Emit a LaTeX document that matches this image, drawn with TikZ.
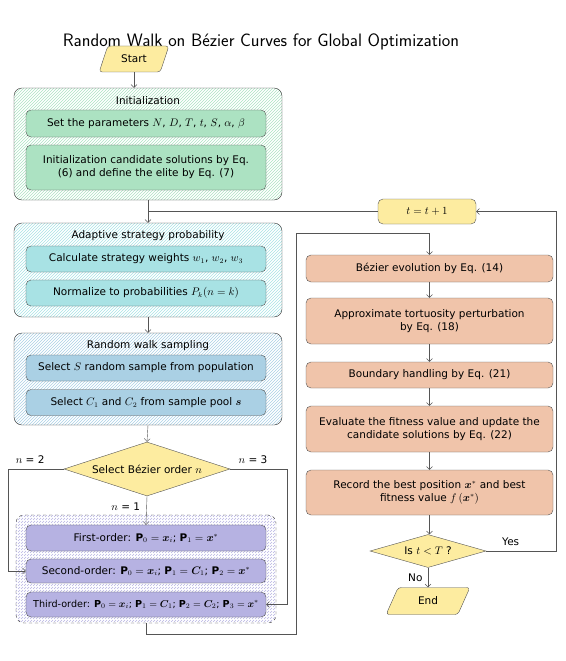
\documentclass[tikz,border=0pt]{standalone}
\usepackage{amsmath,amssymb,bm}
\usepackage{fontspec}
\setmainfont{DejaVu Sans}
\usetikzlibrary{arrows.meta,calc,shapes.geometric,patterns}
\definecolor{termyellow}{RGB}{253,236,160}
\definecolor{initgreen}{RGB}{172,226,194}
\definecolor{adaptcyan}{RGB}{168,226,228}
\definecolor{walkblue}{RGB}{170,208,228}
\definecolor{orderpurple}{RGB}{182,178,226}
\definecolor{loopsalmon}{RGB}{240,196,170}
\definecolor{linegray}{RGB}{85,85,85}

\begin{document}
\begin{tikzpicture}[x=1pt,y=1pt,
  font=\fontsize{10.5}{13}\selectfont,
  proc/.style={draw=linegray,rounded corners=5pt,minimum width=240pt,align=center,inner sep=2pt},
  group/.style={draw=black!80,rounded corners=8pt,pattern=north east lines},
  term/.style={trapezium,trapezium left angle=70,trapezium right angle=110,trapezium stretches=true,
    draw=linegray,rounded corners=3pt,fill=termyellow},
  decide/.style={diamond,draw=linegray,fill=termyellow,inner sep=1pt},
  flow/.style={draw=linegray,-{Straight Barb[length=3pt,width=6pt]}},
  link/.style={draw=linegray}]
  \useasboundingbox (0,0) rectangle (565,-661);
  % title
  \node[font=\sffamily\fontsize{18}{21}\selectfont] (title) at (261,-42) {Random Walk on Bézier Curves for Global Optimization};
  \node[term,minimum width=70pt,minimum height=26pt] (start) at (134,-59) {Start};
  % initialization
  \node[group,pattern color=initgreen,minimum width=268pt,minimum height=112pt] (init) at (148,-144) {};
  \node (inittitle) at (148,-101) {Initialization};
  \node[proc,fill=initgreen,minimum height=27pt] (initpar) at (146,-123.5) {Set the parameters $N$, $D$, $T$, $t$, $S$, $\alpha$, $\beta$};
  \node[proc,fill=initgreen,minimum height=45pt] (initsol) at (146,-167.5) {Initialization candidate solutions by Eq.\\(6) and define the elite by Eq. (7)};
  % adaptive strategy
  \node[group,pattern color=adaptcyan,minimum width=268pt,minimum height=94pt] (adapt) at (148,-270) {};
  \node (adapttitle) at (148,-236) {Adaptive strategy probability};
  \node[proc,fill=adaptcyan,minimum height=26pt] (weights) at (146,-259) {Calculate strategy weights $w_1$, $w_2$, $w_3$};
  \node[proc,fill=adaptcyan,minimum height=26pt] (normal) at (146,-293) {Normalize to probabilities $P_k(n = k)$};
  % random walk
  \node[group,pattern color=walkblue,minimum width=268pt,minimum height=92pt] (walk) at (148,-379) {};
  \node (walktitle) at (148,-346) {Random walk sampling};
  \node[proc,fill=walkblue,minimum height=26pt] (sample) at (146,-368) {Select $S$ random sample from population};
  \node[proc,fill=walkblue,minimum height=26pt] (pool) at (146,-402.5) {Select $C_1$ and $C_2$ from sample pool $\bm{s}$};
  \node[decide,minimum width=166pt,minimum height=54pt,aspect=3] (order) at (147,-469) {Select Bézier order $n$};
  % bezier orders
  \node[group,dashed,pattern color=orderpurple,minimum width=260pt,minimum height=108pt] (orders) at (146,-569) {};
  \node[proc,fill=orderpurple,minimum height=26pt] (first) at (146,-538) {First-order: $\mathbf{P}_0 = \bm{x}_i$; $\mathbf{P}_1 = \bm{x}^*$};
  \node[proc,fill=orderpurple,minimum height=24pt] (second) at (146,-571) {Second-order: $\mathbf{P}_0 = \bm{x}_i$; $\mathbf{P}_1 = \bm{C}_1$; $\mathbf{P}_2 = \bm{x}^*$};
  \node[proc,fill=orderpurple,minimum height=25pt,inner sep=1pt,font=\fontsize{9.6}{12}\selectfont] (third) at (146,-604.5) {Third-order: $\mathbf{P}_0 = \bm{x}_i$; $\mathbf{P}_1 = \bm{C}_1$; $\mathbf{P}_2 = \bm{C}_2$; $\mathbf{P}_3 = \bm{x}^*$};
  % main loop
  \node[proc,fill=termyellow,minimum width=98pt,minimum height=25pt] (tick) at (427,-211.5) {$t = t + 1$};
  \node[proc,fill=loopsalmon,minimum width=247pt,minimum height=27pt] (evo) at (429.5,-268.5) {Bézier evolution by Eq. (14)};
  \node[proc,fill=loopsalmon,minimum width=247pt,minimum height=46pt] (tort) at (429.5,-321) {Approximate tortuosity perturbation\\by Eq. (18)};
  \node[proc,fill=loopsalmon,minimum width=247pt,minimum height=26pt] (bound) at (429.5,-375) {Boundary handling by Eq. (21)};
  \node[proc,fill=loopsalmon,minimum width=247pt,minimum height=46pt] (eval) at (429.5,-429) {Evaluate the fitness value and update the\\candidate solutions by Eq. (22)};
  \node[proc,fill=loopsalmon,minimum width=247pt,minimum height=45pt] (record) at (429.5,-492.5) {Record the best position $\bm{x}^*$ and best\\fitness value $f\,(\bm{x}^*)$};
  \node[decide,minimum width=116pt,minimum height=33pt,aspect=3.5] (check) at (428,-551) {Is $t < T$ ?};
  \node[term,minimum width=84pt,minimum height=27pt] (end) at (428,-601) {End};
  \coordinate (loopcorner) at (296,-233);
  % connectors
  \draw[flow] (start.south) -- (start.south |- init.north);
  \draw[flow] (init.south) -- (adapt.north);
  \draw[link] (tick.west) -- (tick.west -| init.south);
  \draw[flow] (adapt.south) -- (walk.north);
  \draw[flow] (walk.south) -- (order.north);
  \draw[flow] (order.south) -- (first.north) node[pos=0.35,left=3pt] {$n$ = 1};
  \draw[flow] (order.west) -- ++(-56,0) node[pos=0.6,above=2pt] {$n$ = 2} |- (second.west);
  \draw[flow] (order.east) -- ++(57,0) node[pos=0.4,above=2pt] {$n$ = 3} |- (third.east);
  \draw[flow] (orders.south) -- ++(0,-11) -| (loopcorner) -| (evo.north);
  \draw[flow] (evo) -- (tort);
  \draw[flow] (tort) -- (bound);
  \draw[flow] (bound) -- (eval);
  \draw[flow] (eval) -- (record);
  \draw[flow] (record.south) -- (record.south |- check.north);
  \draw[flow] (check.south) -- (check.south |- end.north) node[midway,left=2pt] {No};
  \draw[flow] (check.east) -- ++(70,0) node[pos=0.35,above=2pt] {Yes} |- (tick.east);
\end{tikzpicture}
\end{document}
